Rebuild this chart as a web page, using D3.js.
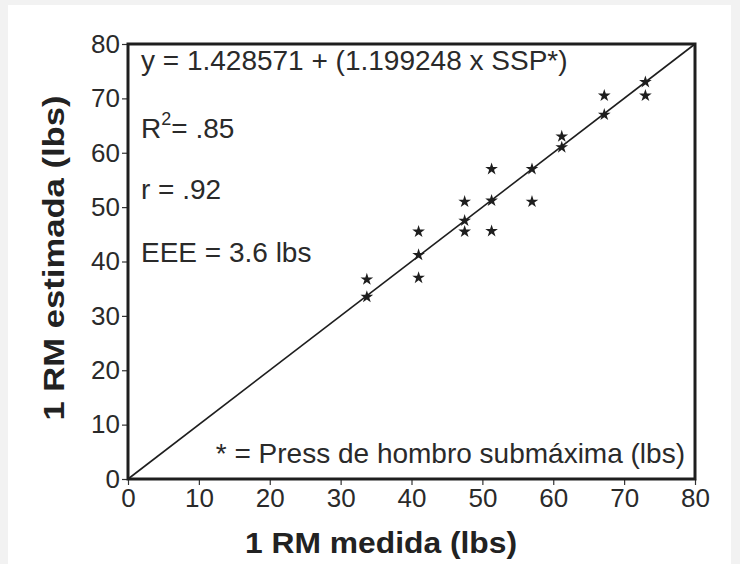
<!DOCTYPE html>
<html>
<head>
<meta charset="UTF-8">
<title></title>
<style>
  body { margin: 0; background: #f2f2f2; font-family: 'Liberation Sans', Arial, Helvetica, sans-serif; }
  svg { display: block; }
  .tick text { fill: #2a2a2a; }
</style>
</head>
<body>
<div id="container"></div>
<script src="https://d3js.org/d3.v7.min.js"></script>
<script>
var medida   = [33.7, 33.7, 41.0, 41.0, 41.0, 47.5, 47.5, 47.5, 51.3, 51.3, 51.3, 57.0, 57.0, 61.2, 61.2, 67.2, 67.2, 73.0, 73.0];
var estimada = [36.7, 33.5, 45.5, 41.2, 37.0, 51.0, 47.5, 45.5, 57.0, 51.2, 45.6, 57.0, 51.0, 63.0, 61.0, 70.5, 67.0, 73.0, 70.5];
var tickVals = [0, 10, 20, 30, 40, 50, 60, 70, 80];
var lineEnds = [0, 80];   // identity line drawn in the figure

var W = 740, H = 564;
var m = {left: 128, right: 695, top: 44, bottom: 479};

var svg = d3.select("#container").append("svg")
  .attr("width", W).attr("height", H);

// white panel over the grey page
svg.append("rect")
  .attr("x", 8).attr("y", 5)
  .attr("width", 723).attr("height", H - 5)
  .attr("fill", "#fff");

var x = d3.scaleLinear().domain([0, 80]).range([m.left, m.right]);
var y = d3.scaleLinear().domain([0, 80]).range([m.bottom, m.top]);

// axes
var xAxis = svg.append("g")
  .attr("transform", "translate(0," + m.bottom + ")")
  .call(d3.axisBottom(x).tickValues(tickVals).tickSize(6).tickPadding(4));
var yAxis = svg.append("g")
  .attr("transform", "translate(" + m.left + ",0)")
  .call(d3.axisLeft(y).tickValues(tickVals).tickSize(6).tickPadding(2));

[xAxis, yAxis].forEach(function(a) {
  a.select(".domain").remove();
  a.selectAll(".tick line").attr("stroke", "#333").attr("stroke-width", 1.2);
  a.selectAll(".tick text")
    .style("font-size", "26px")
    .style("font-family", "'Liberation Sans', Arial, sans-serif");
});

// frame
svg.append("rect")
  .attr("x", m.left).attr("y", m.top)
  .attr("width", m.right - m.left).attr("height", m.bottom - m.top)
  .attr("fill", "none").attr("stroke", "#1e1e1e").attr("stroke-width", 3);

// line of identity
svg.append("line")
  .attr("x1", x(lineEnds[0])).attr("y1", y(lineEnds[0]))
  .attr("x2", x(lineEnds[1])).attr("y2", y(lineEnds[1]))
  .attr("stroke", "#1e1e1e").attr("stroke-width", 1.6);

// stars
var star = d3.symbol().type(d3.symbolStar).size(50);
svg.append("g").selectAll("path")
  .data(medida)
  .enter().append("path")
    .attr("d", star)
    .attr("transform", function(d, i) { return "translate(" + x(d) + "," + y(estimada[i]) + ")"; })
    .attr("fill", "#1e1e1e");

// annotations
var ann = svg.append("g")
  .style("font-size", "28px")
  .attr("fill", "#2a2a2a");

ann.append("text").attr("x", 141).attr("y", 70)
  .text("y = 1.428571 + (1.199248 x SSP*)");

var r2 = ann.append("text").attr("x", 141).attr("y", 138);
r2.append("tspan").text("R");
r2.append("tspan").attr("dy", -13).style("font-size", "18px").text("2");
r2.append("tspan").attr("dy", 13).text("= .85");

ann.append("text").attr("x", 141).attr("y", 199).text("r = .92");
ann.append("text").attr("x", 141).attr("y", 262).text("EEE = 3.6 lbs");

ann.append("text").attr("x", 685).attr("y", 463)
  .attr("text-anchor", "end")
  .text("* = Press de hombro submáxima (lbs)");

// axis titles
svg.append("text")
  .attr("x", 381).attr("y", 553)
  .attr("text-anchor", "middle")
  .attr("textLength", 272).attr("lengthAdjust", "spacingAndGlyphs")
  .style("font-size", "30px").style("font-weight", "bold")
  .attr("fill", "#222")
  .text("1 RM medida (lbs)");

svg.append("text")
  .attr("transform", "translate(64,258) rotate(-90)")
  .attr("text-anchor", "middle")
  .attr("textLength", 325).attr("lengthAdjust", "spacingAndGlyphs")
  .style("font-size", "30px").style("font-weight", "bold")
  .attr("fill", "#222")
  .text("1 RM estimada (lbs)");
</script>
</body>
</html>
